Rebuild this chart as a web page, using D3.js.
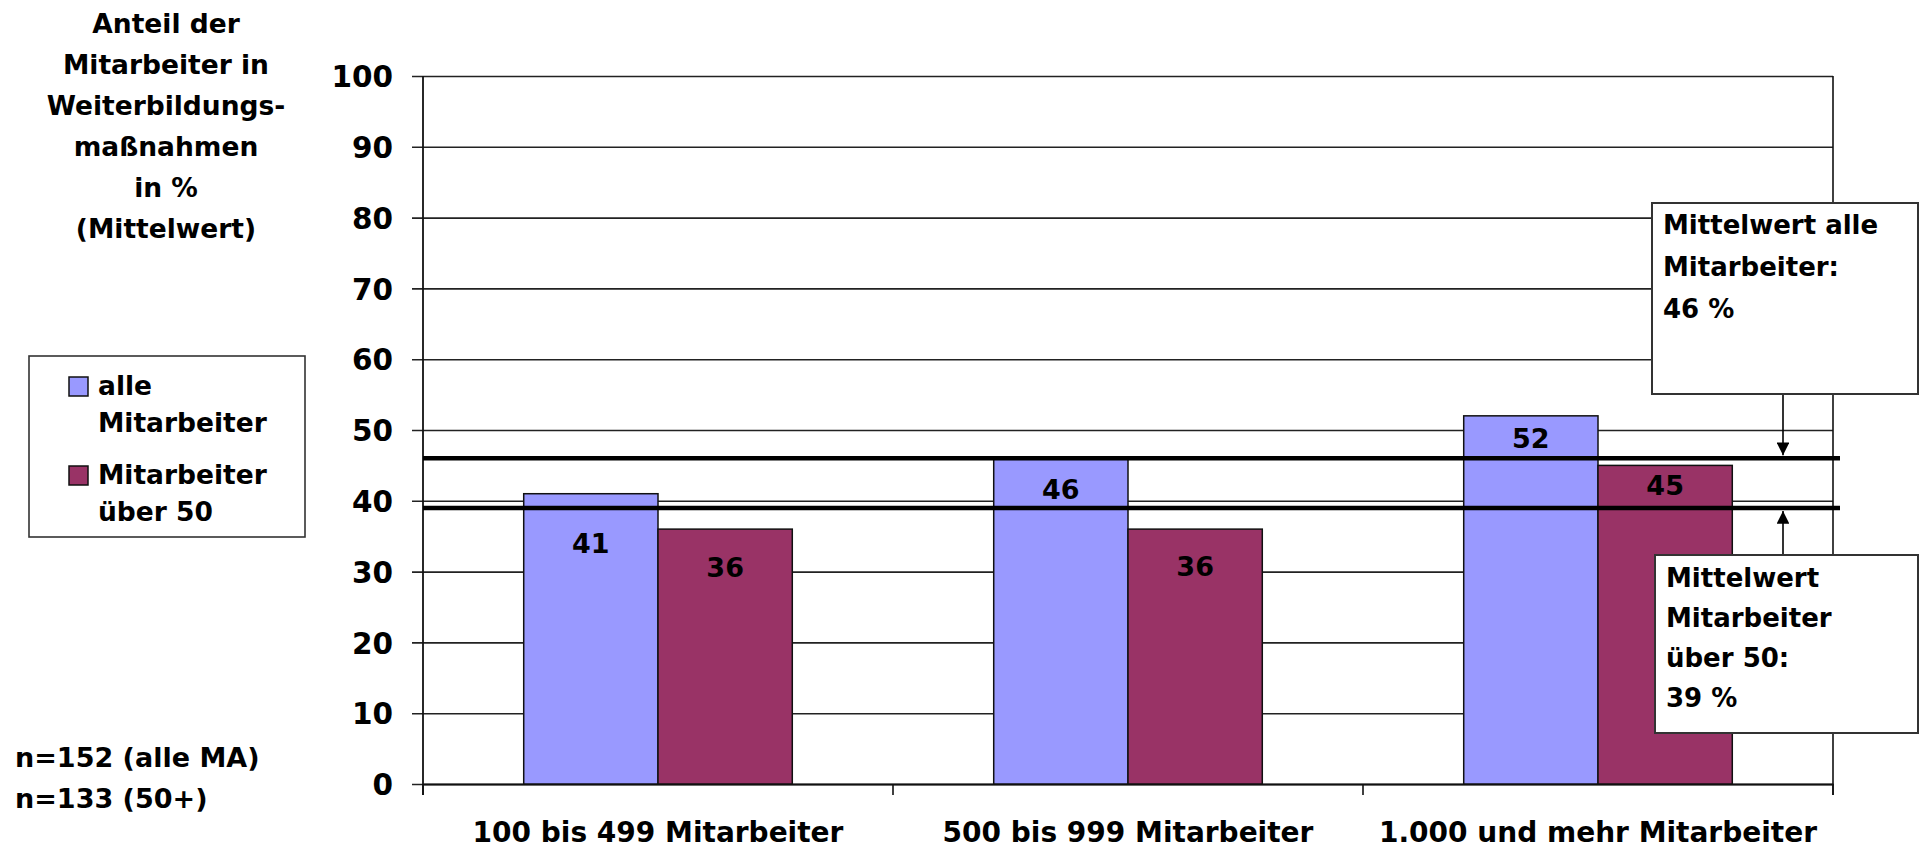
<!DOCTYPE html>
<html lang="de">
<head>
<meta charset="utf-8">
<title>Weiterbildung nach Betriebsgröße</title>
<script src="https://cdn.jsdelivr.net/npm/d3@7/dist/d3.min.js"></script>
<style>
  html, body { margin: 0; padding: 0; background: #fff; }
  svg { display: block; }
  text { font-family: "DejaVu Sans", Verdana, sans-serif; fill: #000; }
</style>
</head>
<body>
<svg id="chart" width="1921" height="848"></svg>
<script>
// ---- data ----
const categories = ["100 bis 499 Mitarbeiter", "500 bis 999 Mitarbeiter", "1.000 und mehr Mitarbeiter"];
const seriesKeys = ["alle", "ueber50"];
const seriesLegend = [["alle", "Mitarbeiter"], ["Mitarbeiter", "über 50"]];
const valuesAlle = [41, 46, 52];
const valuesUeber50 = [36, 36, 45];
const meanAlle = 46;
const meanUeber50 = 39;
const yTickValues = [0, 10, 20, 30, 40, 50, 60, 70, 80, 90, 100];
const yTitleLines = ["Anteil der", "Mitarbeiter in", "Weiterbildungs-", "maßnahmen", "in %", "(Mittelwert)"];
const sampleNotes = ["n=152 (alle MA)", "n=133 (50+)"];
const noteAlle = ["Mittelwert alle", "Mitarbeiter:", meanAlle + " %"];
const noteUeber50 = ["Mittelwert", "Mitarbeiter", "über 50:", meanUeber50 + " %"];

// ---- layout ----
const colors = { alle: "#9999FF", ueber50: "#993366" };
const plot = { left: 423, right: 1833, top: 76, bottom: 784 };
// label baseline distance below the bar top, per series and category
const labelDrop = { alle: [59, 41, 32], ueber50: [48, 47, 30] };

const svg = d3.select("#chart");

const x = d3.scaleBand().domain(categories).range([plot.left, plot.right]).padding(0);
const xSub = d3.scaleBand().domain(seriesKeys).range([0, x.bandwidth()])
  .paddingInner(0).paddingOuter(0.75);
const y = d3.scaleLinear().domain([0, 100]).range([plot.bottom, plot.top]);

const rows = categories.map((c, i) => ({
  cat: c,
  alle: valuesAlle[i],
  ueber50: valuesUeber50[i],
  idx: i
}));

// ---- gridlines + y axis ----
const yAxis = d3.axisLeft(y)
  .tickValues(yTickValues)
  .tickSize(-(plot.right - plot.left))
  .tickSizeOuter(0)
  .tickPadding(0)
  .tickFormat(d3.format("d"));

const gy = svg.append("g").attr("transform", `translate(${plot.left},0)`).call(yAxis);
gy.select(".domain").remove();
gy.selectAll(".tick line").attr("stroke", "#222").attr("stroke-width", 1.6).attr("x1", -11);
gy.selectAll(".tick text")
  .attr("x", -30)
  .attr("dy", "0.36em")
  .style("font-size", "29.5px")
  .style("font-weight", "bold")
  .attr("fill", "#000");

// plot frame: y axis line and right border
svg.append("line")
  .attr("x1", plot.left).attr("x2", plot.left)
  .attr("y1", plot.top).attr("y2", plot.bottom + 11)
  .attr("stroke", "#111").attr("stroke-width", 1.8);
svg.append("line")
  .attr("x1", plot.right).attr("x2", plot.right)
  .attr("y1", plot.top).attr("y2", plot.bottom + 11)
  .attr("stroke", "#111").attr("stroke-width", 1.6);

// ---- x axis ----
const gx = svg.append("g").attr("transform", `translate(0,${plot.bottom})`)
  .call(d3.axisBottom(x).tickSize(0).tickSizeOuter(0).tickPadding(0));
gx.select(".domain").attr("stroke", "#111").attr("stroke-width", 1.8);
gx.selectAll(".tick text")
  .attr("y", 58)
  .attr("dy", 0)
  .style("font-size", "28px")
  .style("font-weight", "bold");
// category separators below the axis
const bounds = categories.map(c => x(c)).concat([x(categories[categories.length - 1]) + x.bandwidth()]);
svg.append("g").selectAll("line").data(bounds).join("line")
  .attr("x1", d => d).attr("x2", d => d)
  .attr("y1", plot.bottom).attr("y2", plot.bottom + 11)
  .attr("stroke", "#111").attr("stroke-width", 1.6);

// ---- bars ----
const groups = svg.append("g").selectAll("g").data(rows).join("g")
  .attr("transform", d => `translate(${x(d.cat)},0)`);

groups.selectAll("rect").data(d => seriesKeys.map(k => ({ key: k, value: d[k], idx: d.idx })))
  .join("rect")
  .attr("x", d => xSub(d.key))
  .attr("y", d => y(d.value))
  .attr("width", xSub.bandwidth())
  .attr("height", d => y(0) - y(d.value))
  .attr("fill", d => colors[d.key])
  .attr("stroke", "#111")
  .attr("stroke-width", 1.5);

// ---- mean lines ----
const means = [meanAlle, meanUeber50];
svg.append("g").selectAll("line").data(means).join("line")
  .attr("x1", plot.left).attr("x2", plot.right + 7)
  .attr("y1", d => y(d)).attr("y2", d => y(d))
  .attr("stroke", "#000").attr("stroke-width", 4.5);

// ---- value labels ----
groups.selectAll("text.val").data(d => seriesKeys.map(k => ({ key: k, value: d[k], idx: d.idx })))
  .join("text")
  .attr("class", "val")
  .attr("x", d => xSub(d.key) + xSub.bandwidth() / 2)
  .attr("y", d => y(d.value) + labelDrop[d.key][d.idx])
  .attr("text-anchor", "middle")
  .style("font-size", "27px")
  .style("font-weight", "bold")
  .text(d => d.value);

// ---- y title ----
svg.append("text")
  .attr("text-anchor", "middle")
  .style("font-size", "26.5px")
  .style("font-weight", "bold")
  .selectAll("tspan").data(yTitleLines).join("tspan")
  .attr("x", 166)
  .attr("y", (d, i) => 33 + i * 41)
  .text(d => d);

// ---- legend ----
const legend = svg.append("g");
legend.append("rect")
  .attr("x", 29).attr("y", 356).attr("width", 276).attr("height", 181)
  .attr("fill", "#fff").attr("stroke", "#333").attr("stroke-width", 1.6);
const legendTops = [377, 466];
seriesKeys.forEach((k, i) => {
  legend.append("rect")
    .attr("x", 69).attr("y", legendTops[i]).attr("width", 19).attr("height", 19)
    .attr("fill", colors[k]).attr("stroke", "#111").attr("stroke-width", 1.5);
  legend.append("text")
    .style("font-size", "26.5px").style("font-weight", "bold")
    .selectAll("tspan").data(seriesLegend[i]).join("tspan")
    .attr("x", 98)
    .attr("y", (d, j) => legendTops[i] + 18 + j * 37)
    .text(d => d);
});

// ---- sample sizes ----
svg.append("text")
  .style("font-size", "27px").style("font-weight", "bold")
  .selectAll("tspan").data(sampleNotes).join("tspan")
  .attr("x", 15)
  .attr("y", (d, i) => 767 + i * 41)
  .text(d => d);

// ---- annotations for the means ----
const defs = svg.append("defs");
defs.append("marker")
  .attr("id", "arrowhead")
  .attr("viewBox", "0 0 10 10")
  .attr("refX", 10).attr("refY", 5)
  .attr("markerWidth", 8.5).attr("markerHeight", 8)
  .attr("markerUnits", "strokeWidth")
  .attr("orient", "auto")
  .append("path").attr("d", "M0,0 L10,5 L0,10 Z").attr("fill", "#000");

const arrowX = 1783;
function callout(box, lines, baseline0, step, toValue, fromY) {
  svg.append("line")
    .attr("x1", arrowX).attr("x2", arrowX)
    .attr("y1", fromY)
    .attr("y2", y(toValue) + (fromY < y(toValue) ? -3 : 3))
    .attr("stroke", "#000").attr("stroke-width", 1.6)
    .attr("marker-end", "url(#arrowhead)");
  svg.append("rect")
    .attr("x", box.x).attr("y", box.y).attr("width", box.w).attr("height", box.h)
    .attr("fill", "#fff").attr("stroke", "#333").attr("stroke-width", 2);
  svg.append("text")
    .style("font-size", "26px").style("font-weight", "bold")
    .selectAll("tspan").data(lines).join("tspan")
    .attr("x", box.x + 11)
    .attr("y", (d, i) => baseline0 + i * step)
    .text(d => d);
}
callout({ x: 1652, y: 203, w: 266, h: 191 }, noteAlle, 234, 42, meanAlle, 394);
callout({ x: 1655, y: 555, w: 263, h: 178 }, noteUeber50, 587, 40, meanUeber50, 555);
</script>
</body>
</html>
